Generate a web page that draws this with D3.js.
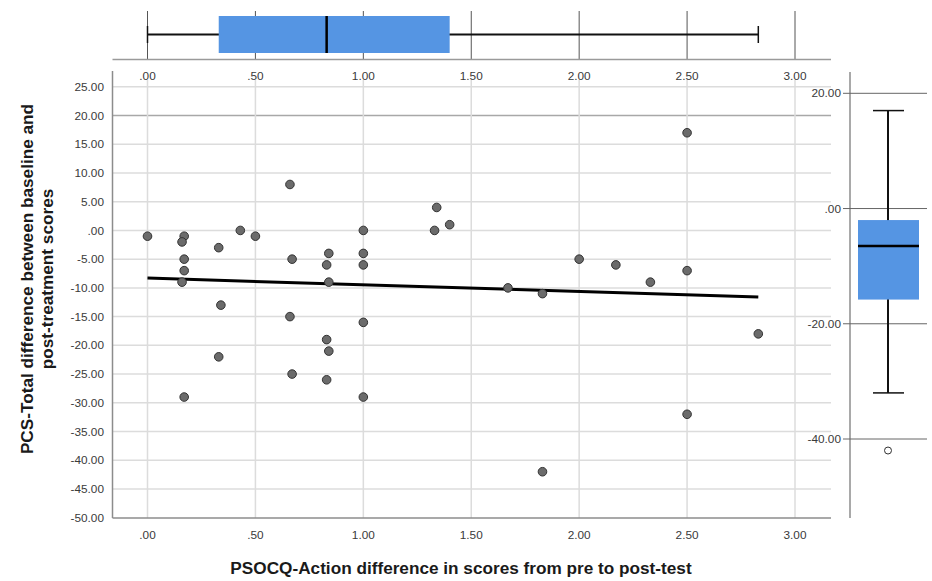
<!DOCTYPE html>
<html>
<head>
<meta charset="utf-8">
<script src="https://cdn.jsdelivr.net/npm/d3@7"></script>
<style>
  body { margin: 0; background: #fff; }
  svg { display: block; font-family: "Liberation Sans", Arial, sans-serif; }
  .tick-label { font-size: 11.8px; fill: #3a3a3a; }
  .title { font-size: 17.2px; font-weight: bold; fill: #1a1a1a; }
</style>
</head>
<body>
<div id="chart"></div>
<script>
// PSOCQ-Action difference (x) vs PCS-Total difference (y)
const actionDiff = [
  0.00, 0.17, 0.16, 0.17, 0.17, 0.16, 0.33, 0.43, 0.50, 0.66,
  0.67, 0.84, 0.83, 0.84, 1.00, 1.00, 1.00, 0.34, 0.66, 1.00,
  0.83, 0.84, 0.33, 0.67, 0.83, 0.17, 1.00, 2.50, 1.34, 1.33,
  1.40, 2.00, 2.17, 2.33, 2.50, 1.67, 1.83, 2.83, 2.50, 1.83
];
const pcsDiff = [
  -1, -1, -2, -5, -7, -9, -3, 0, -1, 8,
  -5, -4, -6, -9, 0, -4, -6, -13, -15, -16,
  -19, -21, -22, -25, -26, -29, -29, 17, 4, 0,
  1, -5, -6, -9, -7, -10, -11, -18, -32, -42
];

// fit line end points
const fitX = [0, 2.83];
const fitY = [-8.3, -11.6];

// box plot summaries
const xBox = { min: 0, q1: 0.33, median: 0.83, q3: 1.40, max: 2.83 };
const yBox = { min: -32, q1: -15.8, median: -6.5, q3: -2, max: 17, outliers: [-42] };

const xTicks = [0, 0.5, 1, 1.5, 2, 2.5, 3];
const yTicks = [25, 20, 15, 10, 5, 0, -5, -10, -15, -20, -25, -30, -35, -40, -45, -50];
const rightTicks = [20, 0, -20, -40];

const fmt = (d) => {
  const s = d3.format(".2f")(Math.abs(d)).replace(/^0\./, ".");
  return (d < 0 ? "-" : "") + s;
};

const BOX_BLUE = "#5595e3";
const width = 932, height = 581;

const svg = d3.select("#chart").append("svg")
  .attr("width", width).attr("height", height);

const x = d3.scaleLinear().domain([0, 3]).range([147.5, 795]);
const y = d3.scaleLinear().domain([-50, 25]).range([517.7, 86.8]);
const yR = d3.scaleLinear().domain([-40, 20]).range([439, 93.3]);

const plotLeft = 112.5, plotRight = 831, plotTop = 80, plotBottom = 518;

// ---------- main scatter ----------
const mainG = svg.append("g");

mainG.selectAll(".hgrid").data(yTicks.filter((d) => d > -50)).enter()
  .append("line")
  .attr("x1", plotLeft).attr("x2", plotRight)
  .attr("y1", (d) => y(d)).attr("y2", (d) => y(d))
  .attr("stroke", (d) => (d === 20 ? "#a8a8a8" : "#dcdcdc"))
  .attr("stroke-width", 1.5);

mainG.selectAll(".vgrid").data(xTicks).enter()
  .append("line")
  .attr("x1", (d) => x(d)).attr("x2", (d) => x(d))
  .attr("y1", plotTop).attr("y2", plotBottom)
  .attr("stroke", "#dcdcdc")
  .attr("stroke-width", 1.5);

// axes lines
mainG.append("line")
  .attr("x1", plotLeft).attr("x2", plotLeft)
  .attr("y1", 71).attr("y2", plotBottom)
  .attr("stroke", "#8c8c8c").attr("stroke-width", 1.5);
mainG.append("line")
  .attr("x1", plotLeft).attr("x2", plotRight)
  .attr("y1", plotBottom).attr("y2", plotBottom)
  .attr("stroke", "#8c8c8c").attr("stroke-width", 1.5);

// y tick labels
mainG.selectAll(".ylab").data(yTicks).enter()
  .append("text")
  .attr("class", "tick-label")
  .attr("x", 104).attr("y", (d) => y(d))
  .attr("dy", "0.35em")
  .attr("text-anchor", "end")
  .text(fmt);

// x tick labels bottom
mainG.selectAll(".xlab").data(xTicks).enter()
  .append("text")
  .attr("class", "tick-label")
  .attr("x", (d) => x(d)).attr("y", 539)
  .attr("text-anchor", "middle")
  .text(fmt);

// fit line
mainG.append("line")
  .attr("x1", x(fitX[0])).attr("y1", y(fitY[0]))
  .attr("x2", x(fitX[1])).attr("y2", y(fitY[1]))
  .attr("stroke", "#000").attr("stroke-width", 3);

// points
mainG.selectAll(".dot").data(actionDiff).enter()
  .append("circle")
  .attr("cx", (d) => x(d))
  .attr("cy", (d, i) => y(pcsDiff[i]))
  .attr("r", 4.3)
  .attr("fill", "#6b6b6b")
  .attr("stroke", "#333")
  .attr("stroke-width", 1);

// titles
svg.append("text")
  .attr("class", "title")
  .attr("x", 461).attr("y", 574)
  .attr("text-anchor", "middle")
  .text("PSOCQ-Action difference in scores from pre to post-test");

const yt = svg.append("text")
  .attr("class", "title")
  .attr("transform", "translate(33,279) rotate(-90)")
  .attr("text-anchor", "middle");
yt.append("tspan").attr("x", 0).attr("dy", "0em").text("PCS-Total difference between baseline and");
yt.append("tspan").attr("x", 0).attr("dy", "1.15em").text("post-treatment scores");

// ---------- top box plot ----------
const topG = svg.append("g");
const boxTop = 16, boxBot = 53, whiskY = 34.5;

topG.selectAll(".tgrid").data(xTicks).enter()
  .append("line")
  .attr("x1", (d) => x(d)).attr("x2", (d) => x(d))
  .attr("y1", 11).attr("y2", 59)
  .attr("stroke", "#555").attr("stroke-width", 1);

topG.append("line")
  .attr("x1", plotLeft).attr("x2", plotRight)
  .attr("y1", 59.5).attr("y2", 59.5)
  .attr("stroke", "#9a9a9a").attr("stroke-width", 1.5);

topG.selectAll(".tlab").data(xTicks).enter()
  .append("text")
  .attr("class", "tick-label")
  .attr("x", (d) => x(d)).attr("y", 80)
  .attr("text-anchor", "middle")
  .text(fmt);

topG.append("line")
  .attr("x1", x(xBox.min)).attr("x2", x(xBox.max))
  .attr("y1", whiskY).attr("y2", whiskY)
  .attr("stroke", "#111").attr("stroke-width", 2.2);
[xBox.min, xBox.max].forEach((v) => {
  topG.append("line")
    .attr("x1", x(v)).attr("x2", x(v))
    .attr("y1", 26).attr("y2", 43)
    .attr("stroke", "#111").attr("stroke-width", 1.5);
});
topG.append("rect")
  .attr("x", x(xBox.q1)).attr("width", x(xBox.q3) - x(xBox.q1))
  .attr("y", boxTop).attr("height", boxBot - boxTop)
  .attr("fill", BOX_BLUE);
topG.append("line")
  .attr("x1", x(xBox.median)).attr("x2", x(xBox.median))
  .attr("y1", boxTop).attr("y2", boxBot)
  .attr("stroke", "#000").attr("stroke-width", 2.5);

// ---------- right box plot ----------
const rightG = svg.append("g");
const rAxisX = 850, rc = 888, rBoxL = 858, rBoxR = 919;

rightG.append("line")
  .attr("x1", rAxisX).attr("x2", rAxisX)
  .attr("y1", 72).attr("y2", 518)
  .attr("stroke", "#8c8c8c").attr("stroke-width", 1.5);

rightG.selectAll(".rgrid").data(rightTicks).enter()
  .append("line")
  .attr("x1", 843).attr("x2", 927)
  .attr("y1", (d) => yR(d)).attr("y2", (d) => yR(d))
  .attr("stroke", "#666").attr("stroke-width", 1);

rightG.selectAll(".rlab").data(rightTicks).enter()
  .append("text")
  .attr("class", "tick-label")
  .attr("x", 841).attr("y", (d) => yR(d))
  .attr("dy", "0.35em")
  .attr("text-anchor", "end")
  .text(fmt);

rightG.append("line")
  .attr("x1", rc).attr("x2", rc)
  .attr("y1", yR(yBox.max)).attr("y2", yR(yBox.min))
  .attr("stroke", "#111").attr("stroke-width", 2);
[yBox.min, yBox.max].forEach((v) => {
  rightG.append("line")
    .attr("x1", 873).attr("x2", 904)
    .attr("y1", yR(v)).attr("y2", yR(v))
    .attr("stroke", "#111").attr("stroke-width", 1.5);
});
rightG.append("rect")
  .attr("x", rBoxL).attr("width", rBoxR - rBoxL)
  .attr("y", yR(yBox.q3)).attr("height", yR(yBox.q1) - yR(yBox.q3))
  .attr("fill", BOX_BLUE);
rightG.append("line")
  .attr("x1", rBoxL).attr("x2", rBoxR)
  .attr("y1", yR(yBox.median)).attr("y2", yR(yBox.median))
  .attr("stroke", "#000").attr("stroke-width", 2.5);
rightG.selectAll(".out").data(yBox.outliers).enter()
  .append("circle")
  .attr("cx", rc).attr("cy", (d) => yR(d))
  .attr("r", 3.5)
  .attr("fill", "#fff").attr("stroke", "#333").attr("stroke-width", 1);
</script>
</body>
</html>
